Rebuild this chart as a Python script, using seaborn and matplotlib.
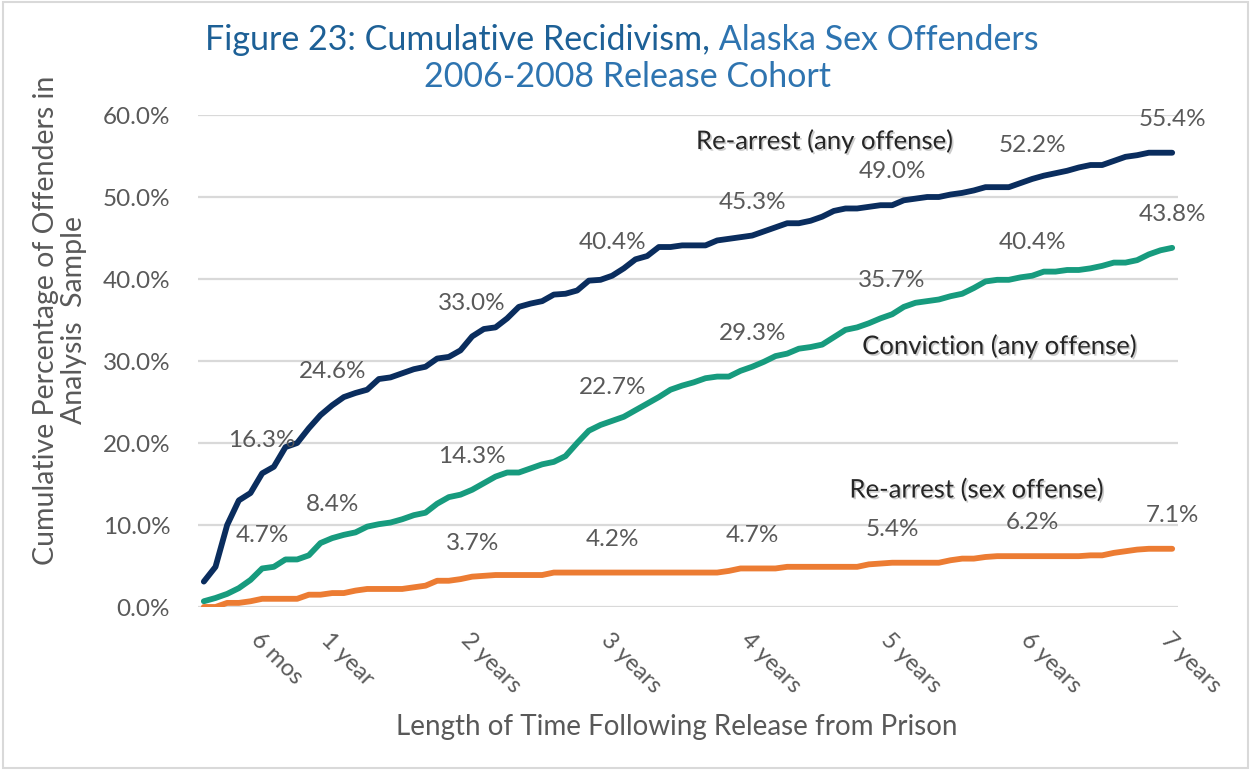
import numpy as np
import pandas as pd
import matplotlib
matplotlib.use("Agg")
import matplotlib.pyplot as plt
import matplotlib.patheffects as pe
from matplotlib.patches import Rectangle
import seaborn as sns

# ---------------- data (cumulative %, months 1..84) ----------------
months = list(range(1, 85))

rearrest_any = [
    3.1, 4.9, 10.0, 13.0, 13.9, 16.3, 17.1, 19.5, 20.0, 21.8, 23.4, 24.6,
    25.6, 26.1, 26.5, 27.8, 28.0, 28.5, 29.0, 29.3, 30.3, 30.5, 31.3, 33.0,
    33.9, 34.1, 35.2, 36.6, 37.0, 37.3, 38.1, 38.2, 38.6, 39.8, 39.9, 40.4,
    41.3, 42.4, 42.8, 43.9, 43.9, 44.1, 44.1, 44.1, 44.7, 44.9, 45.1, 45.3,
    45.8, 46.3, 46.8, 46.8, 47.1, 47.6, 48.3, 48.6, 48.6, 48.8, 49.0, 49.0,
    49.6, 49.8, 50.0, 50.0, 50.3, 50.5, 50.8, 51.2, 51.2, 51.2, 51.7, 52.2,
    52.6, 52.9, 53.2, 53.6, 53.9, 53.9, 54.4, 54.9, 55.1, 55.4, 55.4, 55.4,
]

conviction_any = [
    0.7, 1.1, 1.6, 2.3, 3.3, 4.7, 4.9, 5.8, 5.8, 6.3, 7.8, 8.4,
    8.8, 9.1, 9.8, 10.1, 10.3, 10.7, 11.2, 11.5, 12.6, 13.4, 13.7, 14.3,
    15.1, 15.9, 16.4, 16.4, 16.9, 17.4, 17.7, 18.4, 20.0, 21.5, 22.2, 22.7,
    23.2, 24.0, 24.8, 25.6, 26.5, 27.0, 27.4, 27.9, 28.1, 28.1, 28.8, 29.3,
    29.9, 30.6, 30.9, 31.5, 31.7, 32.0, 32.9, 33.8, 34.1, 34.6, 35.2, 35.7,
    36.6, 37.1, 37.3, 37.5, 37.9, 38.2, 38.9, 39.7, 39.9, 39.9, 40.2, 40.4,
    40.9, 40.9, 41.1, 41.1, 41.3, 41.6, 42.0, 42.0, 42.3, 43.0, 43.5, 43.8,
]

rearrest_sex = [
    0.0, 0.0, 0.5, 0.5, 0.7, 1.0, 1.0, 1.0, 1.0, 1.5, 1.5, 1.7,
    1.7, 2.0, 2.2, 2.2, 2.2, 2.2, 2.4, 2.6, 3.2, 3.2, 3.4, 3.7,
    3.8, 3.9, 3.9, 3.9, 3.9, 3.9, 4.2, 4.2, 4.2, 4.2, 4.2, 4.2,
    4.2, 4.2, 4.2, 4.2, 4.2, 4.2, 4.2, 4.2, 4.2, 4.4, 4.7, 4.7,
    4.7, 4.7, 4.9, 4.9, 4.9, 4.9, 4.9, 4.9, 4.9, 5.2, 5.3, 5.4,
    5.4, 5.4, 5.4, 5.4, 5.7, 5.9, 5.9, 6.1, 6.2, 6.2, 6.2, 6.2,
    6.2, 6.2, 6.2, 6.2, 6.3, 6.3, 6.6, 6.8, 7.0, 7.1, 7.1, 7.1,
]

series_names = ["Re-arrest (any offense)", "Conviction (any offense)", "Re-arrest (sex offense)"]
series_colors = ["#0A2D5E", "#179B7E", "#EC7C33"]

label_months_any = [6, 12, 24, 36, 48, 60, 72, 84]
label_months_sex = [24, 36, 48, 60, 72, 84]
tick_months = [6, 12, 24, 36, 48, 60, 72, 84]
tick_labels = ["6 mos", "1 year", "2 years", "3 years", "4 years", "5 years", "6 years", "7 years"]

y_ticks = [0, 10, 20, 30, 40, 50, 60]

# ---------------- build long frame ----------------
df = pd.DataFrame({
    "month": months * 3,
    "pct": rearrest_any + conviction_any + rearrest_sex,
    "series": [series_names[0]] * 84 + [series_names[1]] * 84 + [series_names[2]] * 84,
})

sns.set_theme(style="white")
FONT = ["Lato", "DejaVu Sans"]
plt.rcParams["font.family"] = FONT

fig = plt.figure(figsize=(12.5, 7.7), dpi=100)
ax = fig.add_axes([198 / 1250, 1 - 607 / 770, 980 / 1250, 492 / 770])

GRAY = "#595959"

ax.set_ylim(0, 60)
ax.set_xlim(0.5, 84.5)
ax.set_yticks(y_ticks)
ax.yaxis.grid(True, color="#D9D9D9", linewidth=1.6)
ax.xaxis.grid(False)
ax.set_axisbelow(True)
for s in ax.spines.values():
    s.set_visible(False)

sns.lineplot(data=df, x="month", y="pct", hue="series", hue_order=series_names,
             palette=series_colors, linewidth=4.2, ax=ax, legend=False,
             solid_capstyle="round", solid_joinstyle="round")

ax.set_yticklabels([f"{v:.1f}%" for v in y_ticks], fontsize=17.5, color=GRAY)
ax.tick_params(axis="y", length=0, pad=20)
ax.set_xticks(tick_months)
ax.set_xticklabels(tick_labels, fontsize=17, color=GRAY, rotation=-45,
                   ha="left", va="top", rotation_mode="anchor")
ax.tick_params(axis="x", length=0, pad=16)
ax.set_xlabel("")
ax.set_ylabel("")

# data labels
for vals, lm in ((rearrest_any, label_months_any), (conviction_any, label_months_any),
                 (rearrest_sex, label_months_sex)):
    for m in lm:
        v = vals[m - 1]
        ax.annotate(f"{v:.1f}%", (m, v), xytext=(0, 24), textcoords="offset points",
                    ha="center", va="center", fontsize=17.5, color=GRAY)

# series labels
shadow = [pe.withSimplePatchShadow(offset=(1.2, -1.2), shadow_rgbFace="#AAAAAA", alpha=0.6)]
fig.text(825 / 1250, 1 - 141 / 770, series_names[0], ha="center", va="center",
         fontsize=18.5, color="#262626", path_effects=shadow)
fig.text(1000 / 1250, 1 - 346 / 770, series_names[1], ha="center", va="center",
         fontsize=18.5, color="#262626", path_effects=shadow)
fig.text(977 / 1250, 1 - 490 / 770, series_names[2], ha="center", va="center",
         fontsize=18.5, color="#262626", path_effects=shadow)

# titles
TS = 24.5
t1 = fig.text(622 / 1250, 1 - 40 / 770, "Figure 23: Cumulative Recidivism,", ha="right",
              va="center", fontsize=TS, color="#1D6096")
fig.canvas.draw()
bb = t1.get_window_extent()
x_end = bb.x1 / fig.bbox.width
t2 = fig.text(x_end, 1 - 40 / 770, " Alaska Sex Offenders", ha="left", va="center",
              fontsize=TS, color="#2E74B0")
fig.canvas.draw()
bb2 = t2.get_window_extent()
total_w = (bb2.x1 - bb.x0)
shift = (622 - (bb.x0 + total_w / 2)) / fig.bbox.width
t1.set_x(t1.get_position()[0] + shift)
t2.set_x(t2.get_position()[0] + shift)

fig.text(628 / 1250, 1 - 77 / 770, "2006-2008 Release Cohort", ha="center", va="center",
         fontsize=TS, color="#2E74B0")

# axis titles
fig.text(60 / 1250, 1 - 320 / 770, "Cumulative Percentage of Offenders in\nAnalysis  Sample",
         ha="center", va="center", rotation=90, fontsize=20.5, color=GRAY, linespacing=1.05)
fig.text(677 / 1250, 1 - 727 / 770, "Length of Time Following Release from Prison",
         ha="center", va="center", fontsize=20, color=GRAY)

# light border around figure
fig.patches.append(Rectangle((0.002, 0.002), 0.996, 0.996, transform=fig.transFigure,
                             fill=False, edgecolor="#D9D9D9", linewidth=1.5))

fig.savefig("out.png", dpi=100)
